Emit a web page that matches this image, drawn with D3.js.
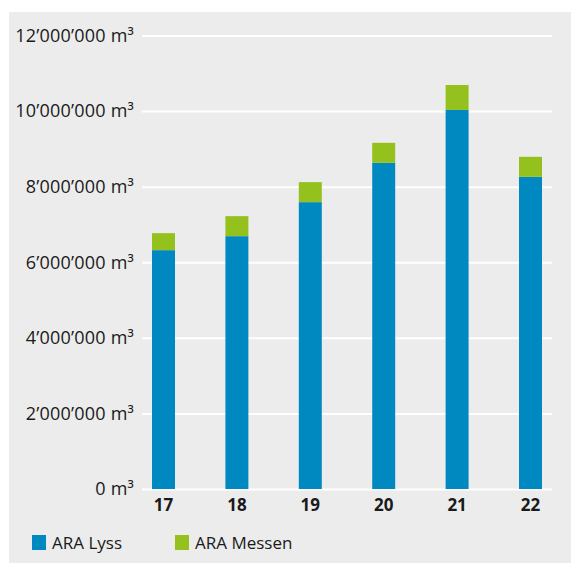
<!DOCTYPE html>
<html>
<head>
<meta charset="utf-8">
<script src="https://cdn.jsdelivr.net/npm/d3@7"></script>
<style>
  html, body { margin: 0; padding: 0; background: #ffffff; }
  svg { display: block; }
</style>
</head>
<body>
<div id="chart"></div>
<script>
// Wastewater volume per year, stacked by treatment plant
const years = ["17", "18", "19", "20", "21", "22"];
const araLyss = [6320000, 6690000, 7590000, 8630000, 10030000, 8260000];
const araMessen = [450000, 530000, 530000, 530000, 660000, 530000];
const yTicks = [0, 2000000, 4000000, 6000000, 8000000, 10000000, 12000000];
const seriesNames = ["ARA Lyss", "ARA Messen"];
const seriesColors = ["#0088c0", "#95c11f"];

const W = 571, H = 563;
const font = "'Open Sans', 'Noto Sans', sans-serif";

const svg = d3.select("#chart").append("svg")
  .attr("width", W).attr("height", H);

// panel background
svg.append("rect")
  .attr("x", 9).attr("y", 12)
  .attr("width", W - 9).attr("height", H - 12)
  .attr("fill", "#ececec");

const y = d3.scaleLinear().domain([0, 12000000]).range([489, 35.5]);
const x = d3.scaleBand().domain(years)
  .range([126.8, 567.2])
  .paddingInner(0.687)
  .paddingOuter(0.3435);

const gridX0 = 142, gridX1 = 552;

// y axis: gridlines + labels
const fmt = v => {
  const s = String(v).replace(/\B(?=(\d{3})+(?!\d))/g, "\u2019");
  return s + " m\u00b3";
};
const yAxis = d3.axisLeft(y)
  .tickValues(yTicks)
  .tickSize(-(gridX1 - gridX0))
  .tickPadding(8)
  .tickFormat(fmt);
const gy = svg.append("g")
  .attr("transform", `translate(${gridX0},0)`)
  .call(yAxis);
gy.select(".domain").remove();
gy.selectAll(".tick line")
  .attr("stroke", "#ffffff")
  .attr("stroke-width", 2);
gy.selectAll(".tick text")
  .attr("font-family", font)
  .attr("font-size", 18)
  .attr("letter-spacing", 0.2)
  .attr("fill", "#1a1a1a");

// stacked bars
const rows = years.map((yr, i) => ({ year: yr, lyss: araLyss[i], messen: araMessen[i] }));
const stack = d3.stack().keys(["lyss", "messen"])(rows);

svg.append("g").selectAll("g")
  .data(stack)
  .join("g")
  .attr("fill", (d, i) => seriesColors[i])
  .selectAll("rect")
  .data(d => d)
  .join("rect")
  .attr("x", d => x(d.data.year))
  .attr("width", x.bandwidth())
  .attr("y", d => y(d[1]))
  .attr("height", d => y(d[0]) - y(d[1]));

// x axis labels
const xAxis = d3.axisBottom(x).tickSize(0).tickPadding(9);
const gx = svg.append("g")
  .attr("transform", `translate(0,${y(0) + 1})`)
  .call(xAxis);
gx.select(".domain").remove();
gx.selectAll(".tick text")
  .attr("font-family", font)
  .attr("font-size", 17)
  .attr("font-weight", 700)
  .attr("fill", "#1a1a1a");

// legend
const legendX = [32, 175];
const lg = svg.append("g").selectAll("g")
  .data(seriesNames)
  .join("g")
  .attr("transform", (d, i) => `translate(${legendX[i]},535)`);
lg.append("rect")
  .attr("width", 14).attr("height", 15)
  .attr("fill", (d, i) => seriesColors[i]);
lg.append("text")
  .attr("x", 20).attr("y", 14)
  .attr("font-family", font)
  .attr("font-size", 17)
  .attr("fill", "#1a1a1a")
  .text(d => d);
</script>
</body>
</html>
